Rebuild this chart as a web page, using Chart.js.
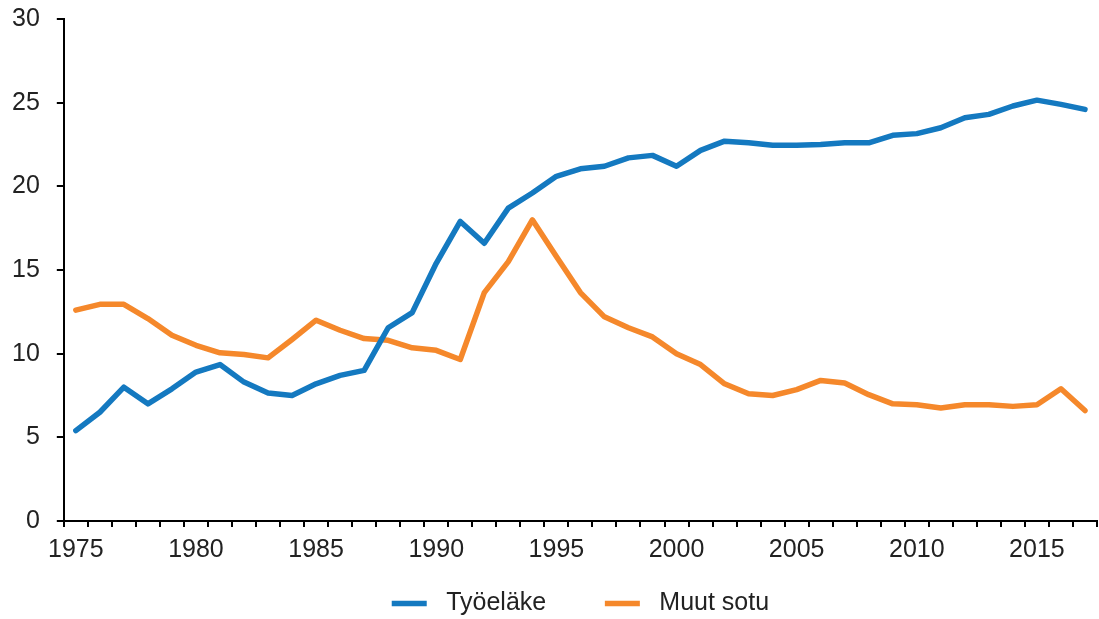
<!DOCTYPE html>
<html>
<head>
<meta charset="utf-8">
<script src="https://cdn.jsdelivr.net/npm/chart.js@4/dist/chart.umd.min.js"></script>
<style>
  html, body { margin: 0; padding: 0; background: #fff; }
  #wrap { width: 1099px; height: 619px; }
</style>
</head>
<body>
<div id="wrap"><canvas id="chart" width="1099" height="619"></canvas></div>
<script>
// years on the x axis
const years = [];
for (let y = 1975; y <= 2017; y++) years.push(String(y));

// Työeläke
const tyoelake = [5.4, 6.5, 8.0, 7.0, 7.9, 8.9, 9.35, 8.3, 7.65, 7.5,
  8.2, 8.7, 9.0, 11.55, 12.45, 15.4, 17.9, 16.6, 18.7, 19.6,
  20.6, 21.05, 21.2, 21.7, 21.85, 21.2, 22.15, 22.7, 22.6, 22.45,
  22.45, 22.5, 22.6, 22.6, 23.05, 23.15, 23.5, 24.1, 24.3, 24.8,
  25.15, 24.9, 24.6];

// Muut sotu
const muutSotu = [12.6, 12.95, 12.95, 12.1, 11.1, 10.5, 10.05, 9.95, 9.75, 10.85,
  12.0, 11.4, 10.9, 10.8, 10.35, 10.2, 9.65, 13.65, 15.5, 18.0,
  15.8, 13.65, 12.2, 11.55, 11.0, 10.0, 9.35, 8.2, 7.6, 7.5,
  7.85, 8.4, 8.25, 7.55, 7.0, 6.95, 6.75, 6.95, 6.95, 6.85,
  6.95, 7.9, 6.6];

const yTicks = [0, 5, 10, 15, 20, 25, 30];

const font = { family: "'Liberation Sans', Arial, sans-serif", size: 25 };
const textColor = "#222222";

// center the legend under the plot area and nudge it down a bit
const legendPlacer = {
  id: "legendPlacer",
  afterLayout(chart) {
    const lg = chart.legend, ca = chart.chartArea;
    const dx = (ca.left + ca.right) / 2 - (lg.left + lg.right) / 2;
    lg.left += dx; lg.right += dx;
    lg.top += 8; lg.bottom += 8;
  }
};

new Chart(document.getElementById("chart").getContext("2d"), {
  type: "line",
  data: {
    labels: years,
    datasets: [
      {
        label: "Työeläke",
        data: tyoelake,
        borderColor: "#1479c0",
        backgroundColor: "#1479c0",
        borderWidth: 5.5,
        borderCapStyle: "round",
        borderJoinStyle: "round",
        pointRadius: 0,
        tension: 0
      },
      {
        label: "Muut sotu",
        data: muutSotu,
        borderColor: "#f5882b",
        backgroundColor: "#f5882b",
        borderWidth: 5.5,
        borderCapStyle: "round",
        borderJoinStyle: "round",
        pointRadius: 0,
        tension: 0
      }
    ]
  },
  plugins: [legendPlacer],
  options: {
    responsive: false,
    animation: false,
    layout: { padding: { top: 19, right: 2, left: -5, bottom: 1 } },
    plugins: {
      tooltip: { enabled: false },
      legend: {
        position: "bottom",
        labels: {
          font: font,
          color: textColor,
          usePointStyle: true,
          pointStyle: "line",
          pointStyleWidth: 35,
          padding: 10,
          // a little more room after the marker, and a wider gap between entries
          generateLabels: function (chart) {
            const items = Chart.defaults.plugins.legend.labels.generateLabels(chart);
            items.forEach((it, i) => {
              it.text = " " + it.text;
              if (i < items.length - 1) it.text += "       ";
            });
            return items;
          }
        }
      }
    },
    scales: {
      x: {
        offset: true,
        border: { color: "#000", width: 2 },
        grid: {
          offset: true,
          drawOnChartArea: false,
          drawTicks: true,
          tickLength: 6,
          color: "#000",
          lineWidth: 2
        },
        ticks: {
          autoSkip: false,
          maxRotation: 0,
          font: font,
          color: textColor,
          padding: 8,
          callback: function (v, i) {
            const y = years[i];
            return Number(y) % 5 === 0 ? y : "";
          }
        }
      },
      y: {
        min: 0,
        max: 30,
        border: { color: "#000", width: 2 },
        grid: {
          drawOnChartArea: false,
          drawTicks: true,
          tickLength: 7,
          color: "#000",
          lineWidth: 2
        },
        afterBuildTicks: function (axis) {
          axis.ticks = yTicks.map(v => ({ value: v }));
        },
        afterFit: function (axis) {
          axis.paddingTop = 0;
        },
        ticks: {
          font: font,
          color: textColor,
          padding: 17
        }
      }
    }
  }
});
</script>
</body>
</html>
